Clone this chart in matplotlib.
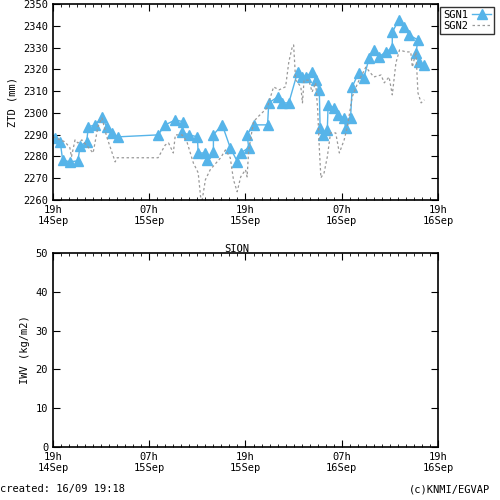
import matplotlib
matplotlib.use("Agg")
import matplotlib.pyplot as plt
from matplotlib.ticker import MultipleLocator

plt.rcParams.update({"font.family": "DejaVu Sans Mono", "font.size": 7.5})

# hours since 19h 14Sep
sgn1_t = [0.25, 0.9, 1.2, 2.1, 3.1, 3.4, 4.2, 4.4, 5.25, 6.1, 6.7, 7.3, 8.1,
          13.1, 14.0, 15.25, 16.25, 16.1, 16.9, 18.0, 18.1, 19.0, 19.2, 20.0, 20.0, 21.1,
          22.1, 23.0, 23.4, 24.4, 24.2, 25.0, 26.75, 26.9,
          28.0, 28.6, 29.4, 30.5, 31.1, 31.5, 32.3, 32.75, 33.2, 33.3, 33.6, 34.2, 34.3,
          35.0, 35.5, 36.25, 36.5, 37.1, 37.3, 38.1, 38.75, 39.4, 40.0, 40.6, 41.5, 42.3,
          42.3, 43.1, 43.75, 44.4, 45.5, 45.25, 45.6, 46.25]
sgn1_v = [2288.5, 2286.7, 2278.4, 2277.5, 2278.0, 2285.0, 2286.7, 2293.6, 2294.5, 2298.0,
          2293.6, 2290.8, 2289.0,
          2289.9, 2294.5, 2296.8, 2295.9, 2291.0, 2290.0, 2289.0, 2281.6, 2281.6, 2278.4,
          2282.0, 2290.0, 2294.5,
          2284.0, 2277.5, 2281.6, 2284.0, 2290.0, 2294.5, 2294.5, 2304.6,
          2307.3, 2304.6, 2304.6, 2318.8, 2316.5, 2316.5, 2318.8, 2315.0, 2310.6, 2293.0,
          2289.9, 2292.2, 2303.7, 2302.3, 2299.0, 2297.7, 2293.0, 2297.7, 2312.0, 2318.3,
          2316.0, 2325.0, 2329.0, 2325.7, 2328.0, 2329.8, 2337.0, 2342.7, 2339.5, 2335.8,
          2333.5, 2327.5, 2323.4, 2322.0]

sgn2_t = [0.0, 1.5, 2.1, 2.3, 2.75, 3.1, 3.6, 5.0, 5.6, 6.1, 6.7, 7.75, 8.0, 13.1,
          14.0, 14.4, 15.0, 15.25, 16.1, 16.7, 17.5, 18.1, 18.4, 18.6, 19.0, 19.6, 20.9,
          21.5, 22.1, 22.5, 22.96, 23.4, 24.0, 24.2, 24.4, 25.0,
          25.5, 26.7, 27.5, 28.2, 29.0, 29.4, 29.8, 30.0, 30.25, 30.9, 31.1, 31.3, 31.9,
          32.3, 32.75, 33.0, 33.2, 33.4, 33.8, 34.2, 34.6, 35.25, 35.7, 36.3, 36.7, 37.3,
          38.0, 39.0, 40.0, 40.9, 41.3, 41.9, 42.3, 42.75, 43.2, 44.0, 44.6, 44.8, 45.25,
          45.5, 45.9, 46.3]
sgn2_v = [2289.0, 2286.7, 2284.0, 2279.8, 2287.6, 2286.2, 2287.6, 2281.6, 2293.6, 2297.7,
          2289.0, 2277.5, 2279.4, 2279.4,
          2285.3, 2286.2, 2281.6, 2289.9, 2289.9, 2286.7, 2277.0, 2272.5, 2261.5, 2260.0,
          2269.3, 2273.9, 2279.4, 2283.0, 2279.4, 2269.3, 2263.8, 2270.6, 2273.9, 2270.6,
          2283.0, 2295.9,
          2298.0, 2302.3, 2311.9, 2310.6, 2312.0, 2323.4, 2329.8, 2331.2, 2315.1, 2312.0,
          2304.6, 2315.0, 2315.0, 2309.6, 2313.8, 2301.4, 2284.0, 2270.2, 2272.5, 2279.8,
          2290.8, 2290.8, 2281.6, 2287.6, 2293.6, 2307.3, 2313.8, 2321.0, 2316.5, 2317.4,
          2313.8, 2316.5, 2308.3, 2322.9, 2328.9, 2328.0, 2328.0, 2321.0, 2328.0, 2309.2,
          2304.6, 2306.0]

tick_hours = [0, 12, 24, 36, 48]
tick_labels = ["19h\n14Sep", "07h\n15Sep", "19h\n15Sep", "07h\n16Sep", "19h\n16Sep"]

blue = "#56b4e9"

fig = plt.figure(figsize=(5, 5), dpi=100)
ax1 = fig.add_axes([0.106, 0.6, 0.77, 0.392])
ax2 = fig.add_axes([0.106, 0.106, 0.77, 0.388])

for ax in (ax1, ax2):
    ax.set_xlim(0, 48)
    ax.set_xticks(tick_hours)
    ax.set_xticklabels(tick_labels)
    ax.xaxis.set_minor_locator(MultipleLocator(1))
    ax.tick_params(which="both", direction="in", top=True, right=True)
    ax.tick_params(which="major", length=5)
    ax.tick_params(which="minor", length=2.5)
    for s in ax.spines.values():
        s.set_linewidth(1.2)

ax1.plot(sgn1_t, sgn1_v, color=blue, lw=1, marker="^", ms=6.5, label="SGN1")
ax1.plot(sgn2_t, sgn2_v, color="#999999", lw=0.9, ls=(0, (2, 2)), label="SGN2")
ax1.set_ylim(2260, 2350)
ax1.yaxis.set_major_locator(MultipleLocator(10))
ax1.set_ylabel("ZTD (mm)")
ax1.legend(loc="upper left", bbox_to_anchor=(1.005, 0.985), frameon=True,
           fancybox=False, edgecolor="black", borderpad=0.3, handlelength=1.8,
           markerfirst=False, borderaxespad=0, labelspacing=0.1, handletextpad=0.4)

ax2.set_ylim(0, 50)
ax2.yaxis.set_major_locator(MultipleLocator(10))
ax2.set_ylabel("IWV (kg/m2)")
fig.text(0.474, 0.502, "SION", ha="center", va="center")

fig.text(0.0, 0.012, "created: 16/09 19:18", ha="left", va="bottom")
fig.text(0.98, 0.012, "(c)KNMI/EGVAP", ha="right", va="bottom")

fig.savefig("out.png", dpi=100)
